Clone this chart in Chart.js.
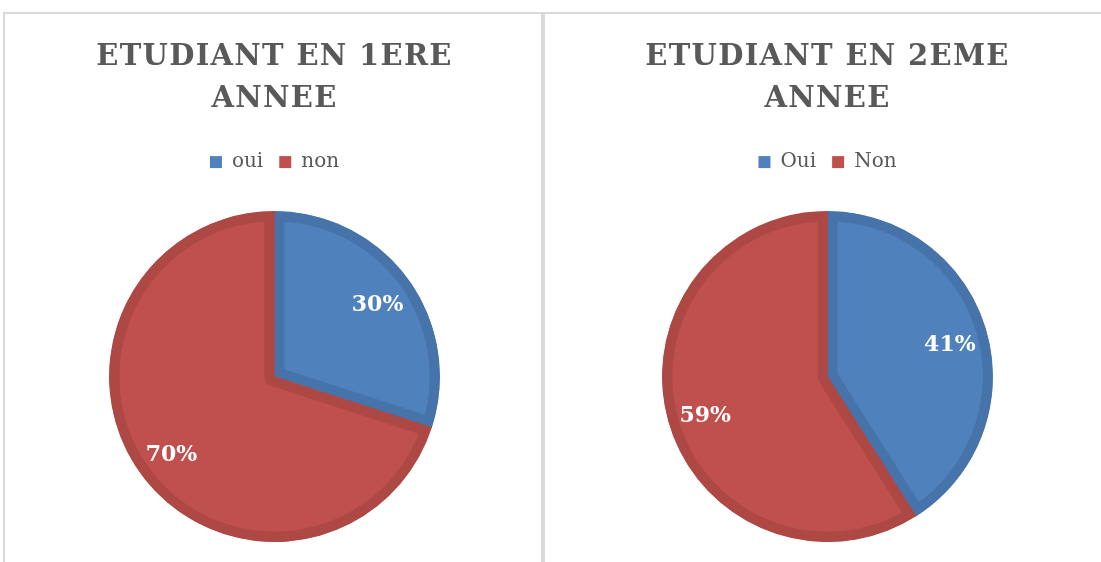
<!DOCTYPE html>
<html>
<head>
<meta charset="utf-8">
<script src="https://cdn.jsdelivr.net/npm/chart.js@4.4.1/dist/chart.umd.min.js"></script>
<style>
  html, body { margin: 0; padding: 0; background: #ffffff; }
  body { width: 1101px; height: 562px; position: relative; overflow: hidden; }
  .frame-top { position: absolute; left: 4px; top: 12px; width: 1097px; height: 2px; background: #d9d9d9; }
  .frame-left { position: absolute; left: 3px; top: 12px; width: 2px; height: 550px; background: #d9d9d9; }
  .frame-mid { position: absolute; left: 541px; top: 12px; width: 4px; height: 550px; background: #d9d9d9; }
  .box { position: absolute; }
</style>
</head>
<body>
<div class="frame-top"></div>
<div class="frame-left"></div>
<div class="frame-mid"></div>
<div class="box" style="left:5px; top:14px; width:536px; height:548px;"><canvas id="chart1"></canvas></div>
<div class="box" style="left:545px; top:14px; width:556px; height:548px;"><canvas id="chart2"></canvas></div>
<script>
// data
var labels1 = ['oui', 'non'];
var values1 = [30, 70];
var title1 = ['ETUDIANT EN 1ERE', 'ANNEE'];

var labels2 = ['Oui', 'Non'];
var values2 = [41, 59];
var title2 = ['ETUDIANT EN 2EME', 'ANNEE'];

var fillColors = ['#4f81bd', '#c0504d'];
var edgeColors = ['#4674aa', '#ad4845'];

var pctLabels = {
  id: 'pctLabels',
  beforeInit: function(chart) {
    // extra room between legend and pie
    var fit = chart.legend.fit;
    chart.legend.fit = function() {
      fit.call(this);
      this.height += 29;
    };
    // spaced-out title letters
    var drawTitle = chart.titleBlock.draw;
    chart.titleBlock.draw = function() {
      chart.ctx.letterSpacing = '1.3px';
      drawTitle.call(this);
      chart.ctx.letterSpacing = '0px';
    };
  },
  // percent labels inside the slices
  afterDatasetsDraw: function(chart) {
    var ctx = chart.ctx;
    var meta = chart.getDatasetMeta(0);
    var data = chart.data.datasets[0].data;
    var total = data.reduce(function(a, b) { return a + b; }, 0);
    ctx.save();
    ctx.fillStyle = '#ffffff';
    ctx.font = 'bold 22px "DejaVu Serif"';
    ctx.textAlign = 'center';
    ctx.textBaseline = 'middle';
    meta.data.forEach(function(arc, i) {
      var p = arc.getProps(['x', 'y', 'startAngle', 'endAngle', 'outerRadius'], true);
      var mid = (p.startAngle + p.endAngle) / 2;
      var r = p.outerRadius * 0.77;
      ctx.fillText(Math.round(data[i] / total * 100) + '%', p.x + Math.cos(mid) * r, p.y + Math.sin(mid) * r + 4);
    });
    ctx.restore();
  }
};

function makePie(id, labels, values, title, padLeft) {
  return new Chart(document.getElementById(id), {
    type: 'pie',
    data: {
      labels: labels,
      datasets: [{
        data: values,
        backgroundColor: fillColors,
        borderColor: edgeColors,
        borderWidth: 10,
        borderAlign: 'inner'
      }]
    },
    options: {
      animation: false,
      responsive: true,
      maintainAspectRatio: false,
      layout: { padding: { left: padLeft, bottom: 20 } },
      plugins: {
        title: {
          display: true,
          text: title,
          color: '#595959',
          font: { family: 'DejaVu Serif', size: 29, weight: 'bold', lineHeight: 1.45 },
          padding: { top: 22, bottom: 16 }
        },
        legend: {
          position: 'top',
          labels: {
            color: '#595959',
            font: { family: 'DejaVu Serif', size: 20 },
            boxWidth: 12,
            boxHeight: 12,
            padding: 16,
            generateLabels: function(chart) {
              return Chart.controllers.pie.overrides.plugins.legend.labels.generateLabels(chart).map(function(item, i) {
                item.fillStyle = fillColors[i];
                item.strokeStyle = fillColors[i];
                item.lineWidth = 0;
                return item;
              });
            }
          }
        },
        tooltip: { enabled: false }
      }
    },
    plugins: [pctLabels]
  });
}

makePie('chart1', labels1, values1, title1, 3);
makePie('chart2', labels2, values2, title2, 9);
</script>
</body>
</html>
